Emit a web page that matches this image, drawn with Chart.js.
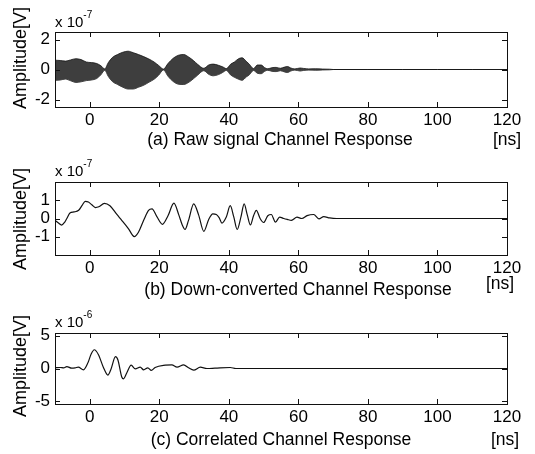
<!DOCTYPE html>
<html><head><meta charset="utf-8">
<script src="https://cdn.jsdelivr.net/npm/chart.js@4.4.0/dist/chart.umd.min.js"></script>
<style>
html,body{margin:0;padding:0;background:#fff;}
#wrap{position:relative;width:535px;height:454px;overflow:hidden;}
canvas{position:absolute;left:0;}
</style></head><body>
<div id="wrap">
<canvas id="ca" width="535" height="152" style="top:0px;width:535px;height:152px"></canvas>
<canvas id="cb" width="535" height="150" style="top:152px;width:535px;height:150px"></canvas>
<canvas id="cc" width="535" height="152" style="top:302px;width:535px;height:152px"></canvas>
</div>
<script>
// ---------- data ----------
const xTicks = [0, 20, 40, 60, 80, 100, 120];

// (a) raw signal: envelope of the dense carrier (x 1e-7 V)
const rawTime  = [-10,-8.5,-7,-5.5,-4,-2.5,-1,0.5,2,3.2,4.3,5.3,6.5,8,9.5,11,12.5,14,15.5,17,18.5,19.8,21.2,22.5,24,25.5,27,28.5,29.8,31,32.8,34.2,35.5,37,38.2,39.3,40.5,41.6,42.8,43.8,45,45.9,47.1,48.2,49.3,50.3,51.2,52.4,53.6,54.8,56,56.9,57.8,59,60.5,61.5,63,65,67,69,70,80,90,100,110,120];
const rawUpper = [0.62,0.6,0.56,0.64,0.72,0.66,0.5,0.46,0.4,0.25,0.04,0.45,0.8,1.0,1.15,1.22,1.12,1.0,0.86,0.7,0.5,0.27,0.03,0.4,0.75,0.95,1.0,0.82,0.6,0.35,0.08,0.3,0.36,0.28,0.18,0.06,0.35,0.5,0.72,0.78,0.55,0.35,0.06,0.3,0.3,0.12,0.05,0.12,0.14,0.08,0.16,0.2,0.1,0.04,0.1,0.07,0.04,0.05,0.03,0.02,0,0,0,0,0,0];
const rawLower = [-0.72,-0.7,-0.64,-0.75,-0.86,-0.82,-0.74,-0.7,-0.6,-0.35,-0.05,-0.45,-0.8,-1.0,-1.18,-1.3,-1.3,-1.18,-1.05,-0.85,-0.65,-0.38,-0.03,-0.45,-0.8,-0.98,-1.0,-0.85,-0.62,-0.38,-0.08,-0.32,-0.42,-0.34,-0.2,-0.06,-0.36,-0.52,-0.65,-0.72,-0.5,-0.35,-0.06,-0.25,-0.28,-0.12,-0.05,-0.12,-0.14,-0.08,-0.16,-0.2,-0.1,-0.04,-0.1,-0.06,-0.04,-0.05,-0.03,-0.02,0,0,0,0,0,0];

// (b) down-converted (x 1e-7 V)
const downTime   = [-10,-9,-8.1,-7.2,-6.6,-5.7,-4.5,-3.2,-2.2,-1.3,-0.4,0.6,1.6,2.6,4.2,5.8,7.8,9.2,11.1,12.8,14,15.5,16.9,17.9,19.3,20.9,22.5,24.2,25.6,26.6,27.4,28.4,29.9,31.3,32.8,34.2,35.4,36.4,37.2,38,39.3,40.4,41.4,42.4,43.5,44.4,45.3,46.2,47.1,47.9,49,50,51.2,52.2,53.4,54.6,55.8,56.8,58,59.6,61,62.5,64.4,65.9,67.3,69,71,80,90,100,110,120];
const downValues = [-0.1,-0.25,-0.36,-0.2,0,0.3,0.36,0.45,0.72,0.94,0.9,0.75,0.6,0.64,0.83,0.7,0.22,-0.1,-0.55,-0.99,-0.75,-0.1,0.45,0.53,0.1,-0.32,0.15,0.84,0.2,-0.35,-0.6,-0.1,0.8,0.2,-0.7,-0.05,0.25,0.22,0.05,-0.25,0.1,0.7,0.1,-0.6,0.1,0.8,0.2,-0.35,0.15,0.45,0,-0.22,0.15,0.22,-0.2,0.08,0,-0.05,-0.1,0.07,0,0.16,0.22,-0.02,0.1,0.03,0,0,0,0,0,0];

// (c) correlated (x 1e-6 V)
const corrTime   = [-10,-8.5,-7.5,-6.6,-5.2,-4.2,-3.3,-1.8,-0.5,0.4,1.3,2.5,3.9,5.2,6.1,7.4,8.1,9.2,9.7,10.7,11.9,13.1,14.5,15.5,16.7,17.7,18.8,21.7,23.6,25.1,27,28.4,29.9,31.8,33.7,36,40.4,42,50,60,70,80,90,100,110,120];
const corrValues = [0.1,0.15,0.1,0.3,0.05,0.1,0.2,-0.2,0.9,2.2,2.85,2.1,0.2,-1.0,-0.1,1.8,1.3,-1.3,-1.57,-0.6,0.5,-0.05,0.2,-0.2,0.1,-0.3,0.15,0.5,0.55,0.2,0.55,0.1,-0.25,0.2,0,0.05,0.15,0,0,0,0,0,0,0,0,0];

const rawYTicks  = [-2, 0, 2];
const downYTicks = [-1, 0, 1];
const corrYTicks = [-5, 0, 5];

const titles = ['(a) Raw signal Channel Response', '(b) Down-converted Channel Response', '(c) Correlated Channel Response'];
const exponents = ['-7', '-7', '-6'];

// ---------- drawing ----------
const FONT = '"Liberation Sans", Arial, Helvetica, sans-serif';
const INK = '#000';

function pts(t, v) { return t.map((x, i) => ({x: x, y: v[i]})); }

function decoPlugin(cfg) {
  return {
    id: 'deco',
    afterDraw(chart) {
      const c = chart.ctx, a = chart.chartArea, sx = chart.scales.x, sy = chart.scales.y;
      c.save();
      c.strokeStyle = '#111'; c.lineWidth = 1;
      c.strokeRect(Math.round(a.left) + 0.5, Math.round(a.top) + 0.5, Math.round(a.right - a.left), Math.round(a.bottom - a.top));
      c.beginPath();
      xTicks.forEach(v => {
        const px = Math.round(sx.getPixelForValue(v)) + 0.5;
        c.moveTo(px, a.top); c.lineTo(px, a.top + 5);
        c.moveTo(px, a.bottom); c.lineTo(px, a.bottom - 5);
      });
      cfg.yTicks.forEach(v => {
        const py = Math.round(sy.getPixelForValue(v)) + 0.5;
        c.moveTo(a.left, py); c.lineTo(a.left + 5, py);
        c.moveTo(a.right, py); c.lineTo(a.right - 5, py);
      });
      c.stroke();
      c.fillStyle = INK;
      // y label
      c.save();
      c.translate(21, cfg.labelY);
      c.rotate(-Math.PI / 2);
      c.font = '18px ' + FONT;
      c.textAlign = 'center'; c.textBaseline = 'middle';
      c.fillText('Amplitude[V]', 0, 0);
      c.restore();
      // exponent
      c.font = '15px ' + FONT;
      c.textAlign = 'left'; c.textBaseline = 'alphabetic';
      c.fillText('x 10', 55, cfg.expY);
      const w = c.measureText('x 10').width;
      c.font = '10px ' + FONT;
      c.fillText(cfg.exp, 55 + w, cfg.expY - 9);
      // title
      c.font = '17.5px ' + FONT;
      c.textAlign = 'center'; c.textBaseline = 'middle';
      c.fillText(cfg.title, cfg.titleX, cfg.titleY);
      c.fillText('[ns]', cfg.nsX, cfg.nsY);
      c.restore();
    }
  };
}

function makeChart(id, datasets, cfg) {
  return new Chart(document.getElementById(id), {
    type: 'line',
    data: {datasets: datasets},
    options: {
      responsive: false, animation: false, events: [],
      layout: {padding: {top: cfg.areaTop, right: 28, left: 0, bottom: 0}},
      plugins: {legend: {display: false}, tooltip: {enabled: false}, title: {display: false}},
      elements: {point: {radius: 0}, line: {cubicInterpolationMode: 'monotone'}},
      scales: {
        x: {
          type: 'linear', min: -10, max: 120,
          afterBuildTicks: s => { s.ticks = xTicks.map(v => ({value: v})); },
          afterFit: s => { s.height = cfg.height - cfg.areaBottom; },
          grid: {display: false, drawTicks: false}, border: {display: false},
          ticks: {padding: 3, color: INK, autoSkip: false, maxRotation: 0, font: {family: FONT, size: 17}}
        },
        y: {
          type: 'linear', min: cfg.ymin, max: cfg.ymax,
          afterBuildTicks: s => { s.ticks = cfg.yTicks.map(v => ({value: v})); },
          afterFit: s => { s.width = 55; },
          grid: {display: false, drawTicks: false}, border: {display: false},
          ticks: {padding: 5, color: INK, font: {family: FONT, size: 17}}
        }
      }
    },
    plugins: [decoPlugin(cfg)]
  });
}

makeChart('ca', [
  {data: pts(rawTime, rawUpper), borderColor: '#111', borderWidth: 0.8, backgroundColor: '#3e3e3e', fill: '+1'},
  {data: pts(rawTime, rawLower), borderColor: '#111', borderWidth: 0.8, fill: false}
], {height: 152, areaTop: 32, areaBottom: 107, ymin: -2.5, ymax: 2.5, yTicks: rawYTicks,
    labelY: 58, expY: 27, exp: exponents[0], title: titles[0], titleX: 280, titleY: 140, nsX: 507, nsY: 140});

makeChart('cb', [
  {data: pts(downTime, downValues), borderColor: '#111', borderWidth: 1.2, fill: false}
], {height: 150, areaTop: 30, areaBottom: 103, ymin: -2, ymax: 2, yTicks: downYTicks,
    labelY: 67, expY: 24, exp: exponents[1], title: titles[1], titleX: 298, titleY: 138, nsX: 500, nsY: 132});

makeChart('cc', [
  {data: pts(corrTime, corrValues), borderColor: '#111', borderWidth: 1.2, fill: false}
], {height: 152, areaTop: 31, areaBottom: 102, ymin: -5.4, ymax: 5.4, yTicks: corrYTicks,
    labelY: 64, expY: 25, exp: exponents[2], title: titles[2], titleX: 281, titleY: 138, nsX: 505, nsY: 138});
</script>
</body></html>
